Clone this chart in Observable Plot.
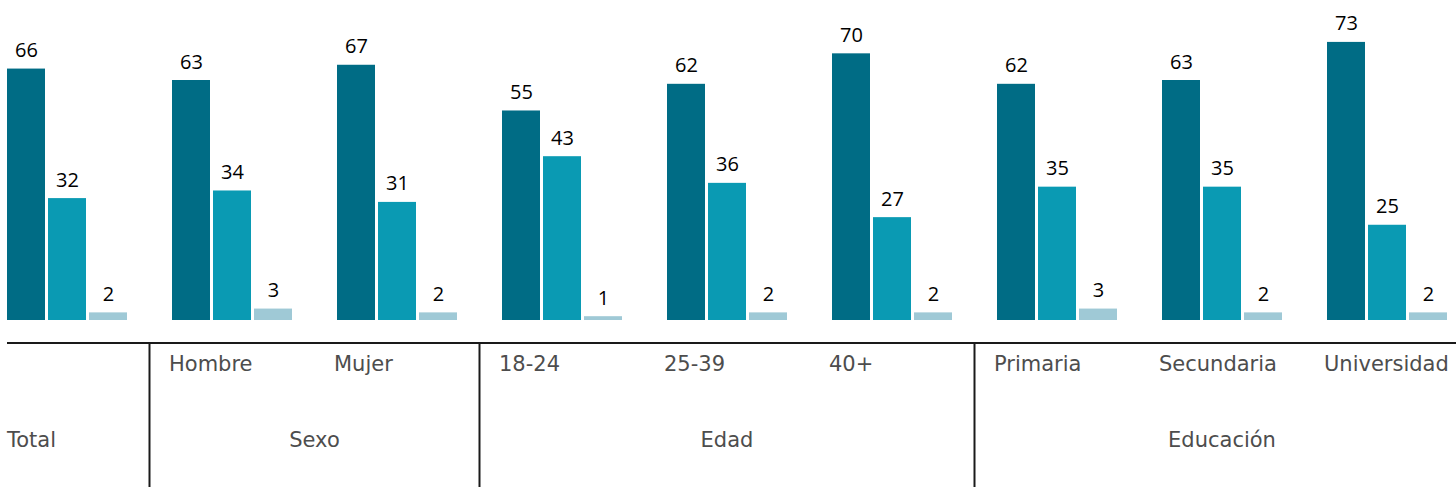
<!DOCTYPE html>
<html>
<head>
<meta charset="utf-8">
<script src="https://cdn.jsdelivr.net/npm/d3@7"></script>
<script src="https://cdn.jsdelivr.net/npm/@observablehq/plot@0.6"></script>
<style>
  html, body { margin: 0; padding: 0; background: #fff; }
  #chart { width: 1456px; height: 487px; }
</style>
</head>
<body>
<div id="chart"></div>
<script>
// ---- Data ----
const categories = ["Total", "Hombre", "Mujer", "18-24", "25-39", "40+", "Primaria", "Secundaria", "Universidad"];
const sectionOf  = ["Total", "Sexo", "Sexo", "Edad", "Edad", "Edad", "Educación", "Educación", "Educación"];
const seriesNames = ["Serie 1", "Serie 2", "Serie 3"];
const values1 = [66, 63, 67, 55, 62, 70, 62, 63, 73];
const values2 = [32, 34, 31, 43, 36, 27, 35, 35, 25];
const values3 = [2, 3, 2, 1, 2, 2, 3, 2, 2];
const colors = ["#006c85", "#0a9ab3", "#9fc9d6"];

const rows = categories.flatMap((c, i) =>
  [values1[i], values2[i], values3[i]].map((v, j) => ({category: c, series: seriesNames[j], value: v}))
);

const W = 1456, H = 487;
const baseline = 320;
const fxPadInner = 45 / 165;

const plot = Plot.plot({
  width: W,
  height: H,
  marginLeft: 7,
  marginRight: 9,
  marginTop: 0,
  marginBottom: H - baseline,
  style: {background: "transparent"},
  fx: {domain: categories, paddingInner: fxPadInner, paddingOuter: 0, axis: null, label: null},
  x: {domain: seriesNames, paddingInner: 3 / 41, paddingOuter: 0, axis: null},
  y: {domain: [0, 84], axis: null},
  color: {domain: seriesNames, range: colors},
  marks: [
    Plot.barY(rows, {fx: "category", x: "series", y: "value", fill: "series"}),
    Plot.text(rows, {
      fx: "category", x: "series", y: "value",
      text: d => String(d.value),
      lineAnchor: "bottom", dy: -12,
      fontSize: 20, fontFamily: "Open Sans", fill: "#000"
    })
  ]
});

document.getElementById("chart").appendChild(plot);

// ---- Bottom category table, positioned from Plot's fx scale ----
const fxd = plot.scale("fx");
const bw = fxd.bandwidth;
const fx = c => fxd.apply(c);   // left edge of the facet band
const stepPx = categories.length > 1 ? fx(categories[1]) - fx(categories[0]) : bw;
const gap = stepPx - bw;

const svg = d3.select(plot);
const g = svg.append("g").attr("text-anchor", "start");
const lineY = 343;
const lineColor = "#1a1a1a";
const labelFont = "DejaVu Sans";
const labelColor = "#4d4d4d";

g.append("line")
  .attr("x1", fx(categories[0])).attr("x2", W)
  .attr("y1", lineY).attr("y2", lineY)
  .attr("stroke", lineColor).attr("stroke-width", 2);

// sections
const sections = [];
categories.forEach((c, i) => {
  const s = sectionOf[i];
  if (!sections.length || sections[sections.length - 1].name !== s) sections.push({name: s, cats: []});
  sections[sections.length - 1].cats.push(c);
});

sections.forEach((s, k) => {
  const first = s.cats[0], last = s.cats[s.cats.length - 1];
  if (k > 0) {
    const xs = fx(first) - gap / 2;
    g.append("line")
      .attr("x1", xs).attr("x2", xs)
      .attr("y1", lineY).attr("y2", H)
      .attr("stroke", lineColor).attr("stroke-width", 2);
  }
  if (s.cats.length > 1) {
    s.cats.forEach(c => {
      g.append("text")
        .attr("x", fx(c) - 3).attr("y", 371)
        .attr("text-anchor", "start")
        .attr("font-family", labelFont).attr("font-size", 21)
        .attr("fill", labelColor)
        .text(c);
    });
    const cx = (fx(first) + fx(last) + bw) / 2;
    g.append("text")
      .attr("x", cx).attr("y", 447)
      .attr("text-anchor", "middle")
      .attr("font-family", labelFont).attr("font-size", 21)
      .attr("fill", labelColor)
      .text(s.name);
  } else {
    g.append("text")
      .attr("x", fx(first)).attr("y", 447)
      .attr("text-anchor", "start")
      .attr("font-family", labelFont).attr("font-size", 21)
      .attr("fill", labelColor)
      .text(s.name);
  }
});
</script>
</body>
</html>
